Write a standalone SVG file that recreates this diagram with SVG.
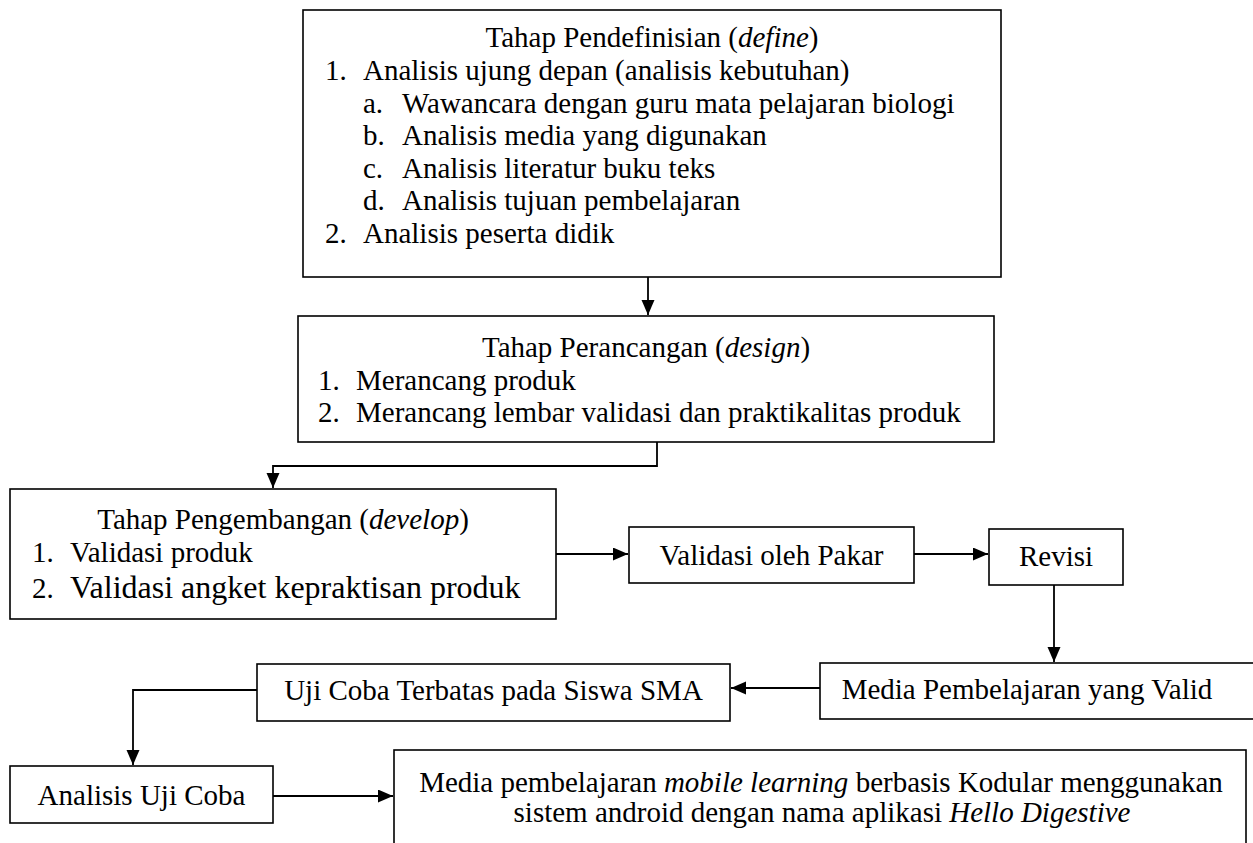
<svg xmlns="http://www.w3.org/2000/svg" width="1253" height="843" viewBox="0 0 1253 843">
<defs>
<style>
.box{fill:#fff;stroke:#000;stroke-width:1.6}
.t{font-family:"Liberation Serif","Times New Roman",serif;font-size:29px;fill:#000}
.c{text-anchor:middle}
.conn{fill:none;stroke:#000;stroke-width:1.8}
</style>
<marker id="ah" markerUnits="userSpaceOnUse" markerWidth="16" markerHeight="14" refX="15" refY="6.5" orient="auto">
<path d="M0,0 L15,6.5 L0,13 Z" fill="#000"/>
</marker>
</defs>
<rect width="1253" height="843" fill="#fff"/>
<g id="connectors">
<path class="conn" d="M648,277 V315" marker-end="url(#ah)"/>
<path class="conn" d="M657,442 V466 H273 V488" marker-end="url(#ah)"/>
<path class="conn" d="M556,554 H628" marker-end="url(#ah)"/>
<path class="conn" d="M914,554 H988" marker-end="url(#ah)"/>
<path class="conn" d="M1054,585 V662" marker-end="url(#ah)"/>
<path class="conn" d="M820,688 H731" marker-end="url(#ah)"/>
<path class="conn" d="M257,690 H133 V765" marker-end="url(#ah)"/>
<path class="conn" d="M273,796 H393" marker-end="url(#ah)"/>
</g>
<g id="define">
<rect class="box" x="303" y="10" width="698" height="267"/>
<text class="t c" x="652" y="47">Tahap Pendefinisian (<tspan font-style="italic">define</tspan>)</text>
<text class="t" x="325" y="80">1.</text><text class="t" x="363" y="80">Analisis ujung depan (analisis kebutuhan)</text>
<text class="t" x="363" y="113">a.</text><text class="t" x="402" y="113">Wawancara dengan guru mata pelajaran biologi</text>
<text class="t" x="363" y="145">b.</text><text class="t" x="402" y="145">Analisis media yang digunakan</text>
<text class="t" x="363" y="178">c.</text><text class="t" x="402" y="178">Analisis literatur buku teks</text>
<text class="t" x="363" y="210">d.</text><text class="t" x="402" y="210">Analisis tujuan pembelajaran</text>
<text class="t" x="325" y="243">2.</text><text class="t" x="363" y="243">Analisis peserta didik</text>
</g>
<g id="design">
<rect class="box" x="298" y="316" width="696" height="126"/>
<text class="t c" x="646" y="357">Tahap Perancangan (<tspan font-style="italic">design</tspan>)</text>
<text class="t" x="318" y="390">1.</text><text class="t" x="356" y="390">Merancang produk</text>
<text class="t" x="318" y="422">2.</text><text class="t" x="356" y="422">Merancang lembar validasi dan praktikalitas produk</text>
</g>
<g id="develop">
<rect class="box" x="10" y="489" width="546" height="130"/>
<text class="t c" x="283" y="529">Tahap Pengembangan (<tspan font-style="italic">develop</tspan>)</text>
<text class="t" x="32" y="562">1.</text><text class="t" x="70" y="562">Validasi produk</text>
<text class="t" x="32" y="598" font-size="32">2.</text><text class="t" x="70" y="598" style="font-size:32px">Validasi angket kepraktisan produk</text>
</g>
<g id="pakar">
<rect class="box" x="629" y="527" width="285" height="56"/>
<text class="t c" x="771.5" y="565">Validasi oleh Pakar</text>
</g>
<g id="revisi">
<rect class="box" x="989" y="529" width="134" height="56"/>
<text class="t c" x="1056" y="566">Revisi</text>
</g>
<g id="valid">
<rect class="box" x="820" y="663" width="440" height="56"/>
<text class="t c" x="1027" y="699">Media Pembelajaran yang Valid</text>
</g>
<g id="ujicoba">
<rect class="box" x="257" y="664" width="473" height="57"/>
<text class="t c" x="493.5" y="700">Uji Coba Terbatas pada Siswa SMA</text>
</g>
<g id="analisis">
<rect class="box" x="10" y="766" width="263" height="57"/>
<text class="t c" x="141.5" y="805">Analisis Uji Coba</text>
</g>
<g id="final">
<rect class="box" x="394" y="750" width="852" height="110"/>
<text class="t c" x="821" y="792">Media pembelajaran <tspan font-style="italic">mobile learning</tspan> berbasis Kodular menggunakan</text>
<text class="t c" x="822" y="822">sistem android dengan nama aplikasi <tspan font-style="italic">Hello Digestive</tspan></text>
</g>
</svg>
